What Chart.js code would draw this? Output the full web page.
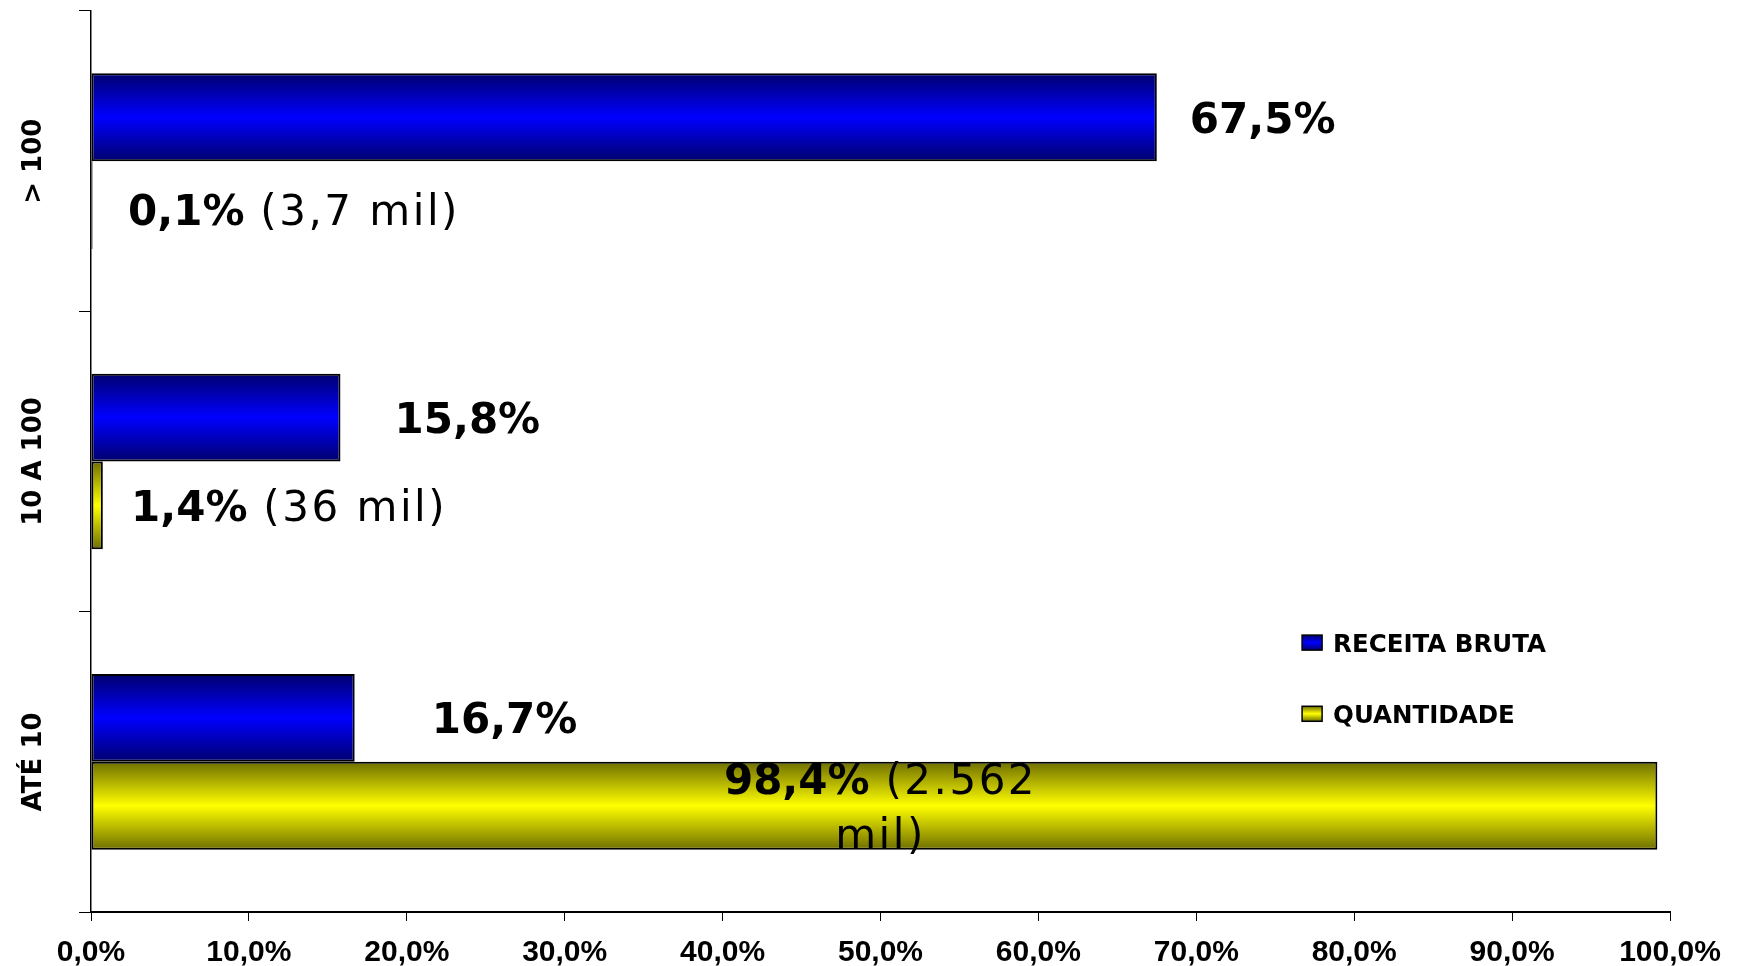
<!DOCTYPE html>
<html>
<head>
<meta charset="utf-8">
<script src="https://cdn.jsdelivr.net/npm/chart.js@4.4.1/dist/chart.umd.min.js"></script>
<style>
  html, body { margin: 0; padding: 0; background: #fff; }
  canvas { display: block; }
</style>
</head>
<body>
<canvas id="c" width="1738" height="966"></canvas>
<script>
// ---- data ----
const categories = ['> 100', '10 A 100', 'ATÉ 10'];
const seriesNames = ['RECEITA BRUTA', 'QUANTIDADE'];
const receitaBruta = [67.5, 15.8, 16.7];          // bar lengths, %
const quantidade   = [0.1, 0.75, 99.2];           // bar lengths as drawn, %
const receitaLabels = ['67,5%', '15,8%', '16,7%'];
const quantPctLabels = ['0,1%', '1,4%', '98,4%'];
const quantAbsLabels = ['(3,7 mil)', '(36 mil)', '(2.562 mil)'];
const xTickValues = [0, 10, 20, 30, 40, 50, 60, 70, 80, 90, 100];

// ---- styling / layout (not data) ----
const FONT = "'DejaVu Sans', sans-serif";
const palettes = [
  { edge: '#00006e', mid: '#0000ff' },
  { edge: '#6e6e00', mid: '#ffff00' }
];
const receitaOffsets = [33, 54, 77];   // px right of bar end
const quantPlacement = [
  { mode: 'left', dx: 37, dy: 5 },
  { mode: 'left', dx: 40, dy: 0 },
  { mode: 'center', dy: 0, maxWidth: 340, lineGap: 55 }
];

function grad(ctx, top, bottom, p) {
  const g = ctx.createLinearGradient(0, top, 0, bottom);
  g.addColorStop(0, p.edge);
  g.addColorStop(0.5, p.mid);
  g.addColorStop(1, p.edge);
  return g;
}

const gradientPlugin = {
  id: 'gradientBars',
  beforeDatasetsDraw(chart) {
    const ctx = chart.ctx;
    chart.data.datasets.forEach((ds, di) => {
      const meta = chart.getDatasetMeta(di);
      meta.data.forEach(el => {
        const h = el.height;
        el.options.backgroundColor = grad(ctx, el.y - h / 2, el.y + h / 2, palettes[di]);
      });
    });
  }
};

function setFont(ctx, p, size) {
  ctx.font = (p.bold ? 'bold ' : '') + size + 'px ' + FONT;
  ctx.letterSpacing = p.bold ? '0px' : '2.5px';
}

function drawMixed(ctx, parts, x, y, align, size) {
  let total = 0;
  parts.forEach(p => { setFont(ctx, p, size); p.w = ctx.measureText(p.text).width; total += p.w; });
  let cx = align === 'center' ? x - total / 2 : x;
  ctx.textAlign = 'left';
  ctx.textBaseline = 'alphabetic';
  parts.forEach(p => { setFont(ctx, p, size); ctx.fillText(p.text, cx, y); cx += p.w; });
  ctx.letterSpacing = '0px';
}

const labelsPlugin = {
  id: 'valueLabels',
  afterDatasetsDraw(chart) {
    const ctx = chart.ctx;
    const size = 42;
    const capHalf = size * 0.365;
    ctx.save();
    ctx.fillStyle = '#000';
    chart.getDatasetMeta(0).data.forEach((el, i) => {
      ctx.font = 'bold ' + size + 'px ' + FONT;
      ctx.textAlign = 'left';
      ctx.textBaseline = 'alphabetic';
      ctx.fillText(receitaLabels[i], el.x + receitaOffsets[i], el.y + capHalf);
    });
    const area = chart.chartArea;
    chart.getDatasetMeta(1).data.forEach((el, i) => {
      const pl = quantPlacement[i];
      if (pl.mode === 'left') {
        drawMixed(ctx, [{ text: quantPctLabels[i], bold: true }, { text: ' ' + quantAbsLabels[i], bold: false }],
          area.left + pl.dx, el.y + pl.dy + capHalf, 'left', size);
      } else {
        const words = quantAbsLabels[i].split(' ');
        const lines = [[{ text: quantPctLabels[i], bold: true }]];
        const widthOf = parts => parts.reduce((s, p) => { setFont(ctx, p, size); return s + ctx.measureText(p.text).width; }, 0);
        words.forEach(w => {
          const cur = lines[lines.length - 1];
          const trial = cur.concat([{ text: ' ' + w, bold: false }]);
          if (widthOf(trial) <= pl.maxWidth) lines[lines.length - 1] = trial;
          else lines.push([{ text: w, bold: false }]);
        });
        const cx = (area.left + area.right) / 2;
        const n = lines.length;
        lines.forEach((ln, k) => {
          const yy = el.y + pl.dy + (k - (n - 1) / 2) * pl.lineGap + capHalf;
          drawMixed(ctx, ln, cx, yy, 'center', size);
        });
      }
    });
    ctx.restore();
  }
};

const categoryLabelPlugin = {
  id: 'catLabels',
  afterDraw(chart) {
    const ctx = chart.ctx;
    const y = chart.scales.y;
    ctx.save();
    ctx.fillStyle = '#000';
    ctx.font = 'bold 26px ' + FONT;
    ctx.textAlign = 'center';
    ctx.textBaseline = 'middle';
    categories.forEach((c, i) => {
      const py = y.getPixelForValue(i);
      ctx.save();
      ctx.translate(34, py);
      ctx.rotate(-Math.PI / 2);
      ctx.fillText(c, 0, 0);
      ctx.restore();
    });
    ctx.restore();
  }
};

const legendPlugin = {
  id: 'insideLegend',
  afterDraw(chart) {
    const ctx = chart.ctx;
    const a = chart.chartArea;
    const bx = a.left + 0.767 * (a.right - a.left);
    const rows = [0.701, 0.780];
    ctx.save();
    chart.data.datasets.forEach((ds, di) => {
      const cy = a.top + rows[di] * (a.bottom - a.top);
      const top = cy - 7.5;
      ctx.fillStyle = grad(ctx, top, top + 15, palettes[di]);
      ctx.fillRect(bx, top, 20, 15);
      ctx.lineWidth = 1.5;
      ctx.strokeStyle = '#000';
      ctx.strokeRect(bx, top, 20, 15);
      ctx.fillStyle = '#000';
      ctx.font = 'bold 24.5px ' + FONT;
      ctx.textAlign = 'left';
      ctx.textBaseline = 'alphabetic';
      ctx.fillText(ds.label, bx + 31, cy + 24.5 * 0.365);
    });
    ctx.restore();
  }
};

new Chart(document.getElementById('c'), {
  type: 'bar',
  data: {
    labels: categories,
    datasets: [
      { label: seriesNames[0], data: receitaBruta, backgroundColor: c => palettes[0].mid,
        borderColor: '#000', borderWidth: 2, borderSkipped: false,
        categoryPercentage: 0.585, barPercentage: 1 },
      { label: seriesNames[1], data: quantidade, backgroundColor: c => palettes[1].mid,
        borderColor: '#000', borderWidth: 2, borderSkipped: false,
        categoryPercentage: 0.585, barPercentage: 1 }
    ]
  },
  options: {
    indexAxis: 'y',
    responsive: false,
    animation: false,
    devicePixelRatio: 1,
    layout: { padding: { left: 79, right: 68, top: 11, bottom: -19 } },
    plugins: { legend: { display: false }, tooltip: { enabled: false } },
    scales: {
      x: {
        type: 'linear', min: 0, max: 100,
        afterBuildTicks: s => { s.ticks = xTickValues.map(v => ({ value: v })); },
        ticks: {
          color: '#000',
          padding: 17,
          maxRotation: 0,
          font: { family: "'Liberation Sans', Arial, sans-serif", weight: 'bold', size: 30, lineHeight: 1 },
          callback: v => v.toFixed(1).replace('.', ',') + '%'
        },
        grid: { drawOnChartArea: false, tickLength: 9, color: '#000', lineWidth: 1 },
        border: { color: '#000', width: 2 }
      },
      y: {
        type: 'category',
        ticks: { display: false },
        grid: { drawOnChartArea: false, tickLength: 12, color: '#000', lineWidth: 1, offset: true },
        border: { color: '#000', width: 1.5 }
      }
    }
  },
  plugins: [gradientPlugin, labelsPlugin, categoryLabelPlugin, legendPlugin]
});
</script>
</body>
</html>
